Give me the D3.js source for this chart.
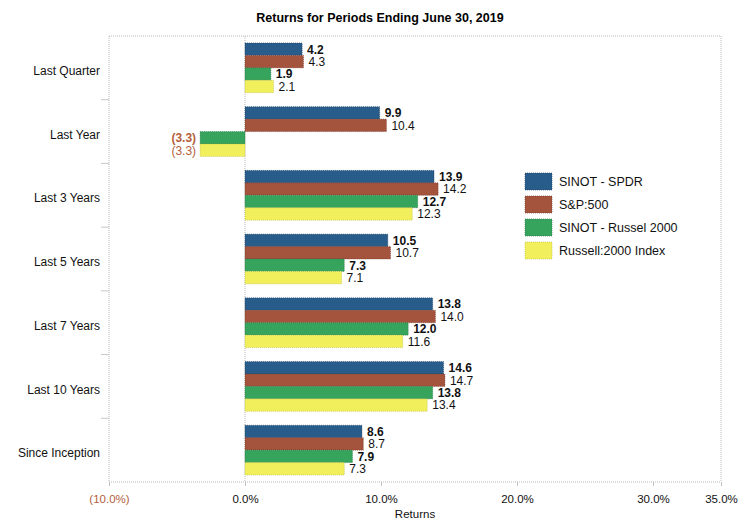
<!DOCTYPE html>
<html>
<head>
<meta charset="utf-8">
<script src="https://d3js.org/d3.v7.min.js"></script>
<style>
  body { margin: 0; background: #fff; }
  svg { font-family: "Liberation Sans", Arial, sans-serif; }
</style>
</head>
<body>
<div id="chart"></div>
<script>
// data
var periods = ["Last Quarter", "Last Year", "Last 3 Years", "Last 5 Years", "Last 7 Years", "Last 10 Years", "Since Inception"];
var seriesNames = ["SINOT - SPDR", "S&P:500", "SINOT - Russel 2000", "Russell:2000 Index"];
var sinotSpdr   = [4.2, 9.9, 13.9, 10.5, 13.8, 14.6, 8.6];
var sp500       = [4.3, 10.4, 14.2, 10.7, 14.0, 14.7, 8.7];
var sinotRussel = [1.9, -3.3, 12.7, 7.3, 12.0, 13.8, 7.9];
var russell2000 = [2.1, -3.3, 12.3, 7.1, 11.6, 13.4, 7.3];
var tickValues = [-10, 0, 10, 20, 30, 35];

var seriesValues = [sinotSpdr, sp500, sinotRussel, russell2000];
var colors = ["#285d8b", "#a4533d", "#36a45d", "#f1f05c"];
var strokes = ["#1a3a5a", "#6e3526", "#22703f", "#b8b640"];
var boldLabel = [true, false, true, false];

var W = 738, H = 520;
var plot = {left: 109, right: 721, top: 36, bottom: 482};

var svg = d3.select("#chart").append("svg")
  .attr("width", W)
  .attr("height", H);

var x = d3.scaleLinear().domain([-10, 35]).range([plot.left, plot.right]);

var y0 = d3.scaleBand()
  .domain(periods)
  .range([plot.top, plot.bottom])
  .paddingInner(0.22)
  .paddingOuter(0.11);

var y1 = d3.scaleBand()
  .domain(d3.range(seriesNames.length))
  .range([0, y0.bandwidth()]);

// title
svg.append("text")
  .attr("x", 380)
  .attr("y", 22)
  .attr("text-anchor", "middle")
  .attr("font-weight", "bold")
  .attr("font-size", 12.5)
  .text("Returns for Periods Ending June 30, 2019");

// frame (dotted)
var frame = svg.append("g")
  .attr("stroke", "#b8b8b8")
  .attr("stroke-dasharray", "1,1")
  .attr("fill", "none");
frame.append("line").attr("x1", plot.left).attr("x2", plot.right).attr("y1", plot.top).attr("y2", plot.top);
frame.append("line").attr("x1", plot.right).attr("x2", plot.right).attr("y1", plot.top).attr("y2", plot.bottom);
frame.append("line").attr("x1", plot.left).attr("x2", plot.left).attr("y1", plot.top).attr("y2", plot.bottom);
frame.append("line").attr("x1", plot.left).attr("x2", plot.right).attr("y1", plot.bottom).attr("y2", plot.bottom);
frame.append("line").attr("x1", x(0)).attr("x2", x(0)).attr("y1", plot.top).attr("y2", plot.bottom);

// y ticks between categories
svg.append("g")
  .selectAll("line")
  .data(periods.slice(1))
  .enter().append("line")
    .attr("x1", plot.left - 8)
    .attr("x2", plot.left)
    .attr("y1", function(d) { return y0(d) - y0.step() * 0.11; })
    .attr("y2", function(d) { return y0(d) - y0.step() * 0.11; })
    .attr("stroke", "#c8c8c8");

// category labels
svg.append("g")
  .selectAll("text")
  .data(periods)
  .enter().append("text")
    .attr("x", 100)
    .attr("y", function(d) { return y0(d) + y0.bandwidth() / 2 + 3; })
    .attr("dy", "0.35em")
    .attr("text-anchor", "end")
    .attr("font-size", 12)
    .attr("fill", "#111")
    .text(function(d) { return d; });

// bars
var rows = [];
periods.forEach(function(p, i) {
  seriesValues.forEach(function(vals, s) {
    rows.push({period: p, s: s, value: vals[i]});
  });
});

var g = svg.append("g");

g.selectAll("rect")
  .data(rows)
  .enter().append("rect")
    .attr("x", function(d) { return x(Math.min(0, d.value)); })
    .attr("y", function(d) { return y0(d.period) + y1(d.s); })
    .attr("width", function(d) { return Math.abs(x(d.value) - x(0)); })
    .attr("height", y1.bandwidth())
    .attr("fill", function(d) { return colors[d.s]; })
    .attr("stroke", function(d) { return strokes[d.s]; })
    .attr("stroke-width", 0.6)
    .attr("stroke-dasharray", "1,1");

g.selectAll("text")
  .data(rows)
  .enter().append("text")
    .attr("x", function(d) { return d.value < 0 ? x(d.value) - 4 : x(d.value) + 5; })
    .attr("y", function(d) { return y0(d.period) + y1(d.s) + y1.bandwidth() / 2; })
    .attr("dy", "0.36em")
    .attr("text-anchor", function(d) { return d.value < 0 ? "end" : "start"; })
    .attr("font-size", 12)
    .attr("font-weight", function(d) { return boldLabel[d.s] ? "bold" : "normal"; })
    .attr("fill", function(d) { return d.value < 0 ? "#b5603c" : "#111"; })
    .text(function(d) { return d.value < 0 ? "(" + d3.format(".1f")(-d.value) + ")" : d3.format(".1f")(d.value); });

// x axis
var xAxis = svg.append("g")
  .attr("transform", "translate(0," + plot.bottom + ")")
  .call(d3.axisBottom(x).tickValues(tickValues).tickSize(4)
    .tickFormat(function(d) { return d < 0 ? "(" + d3.format(".1f")(-d) + "%)" : d3.format(".1f")(d) + "%"; }));
xAxis.select(".domain").remove();
xAxis.selectAll("line").attr("stroke", "#c0c0c0");
xAxis.selectAll("text")
  .attr("font-family", "Liberation Sans, Arial, sans-serif")
  .attr("font-size", 11.5)
  .attr("dy", "1.2em")
  .attr("fill", function(d) { return d < 0 ? "#b5603c" : "#111"; });

svg.append("text")
  .attr("x", (plot.left + plot.right) / 2)
  .attr("y", 518)
  .attr("text-anchor", "middle")
  .attr("font-size", 11.5)
  .attr("fill", "#111")
  .text("Returns");

// legend
var legend = svg.append("g")
  .selectAll("g")
  .data(seriesNames)
  .enter().append("g")
    .attr("transform", function(d, i) { return "translate(525," + (173 + i * 23) + ")"; });

legend.append("rect")
  .attr("width", 27)
  .attr("height", 17)
  .attr("fill", function(d, i) { return colors[i]; })
  .attr("stroke", function(d, i) { return strokes[i]; })
  .attr("stroke-width", 0.6)
  .attr("stroke-dasharray", "1,1");

legend.append("text")
  .attr("x", 34)
  .attr("y", 8.5)
  .attr("dy", "0.35em")
  .attr("font-size", 12.5)
  .attr("fill", "#111")
  .text(function(d) { return d; });
</script>
</body>
</html>
